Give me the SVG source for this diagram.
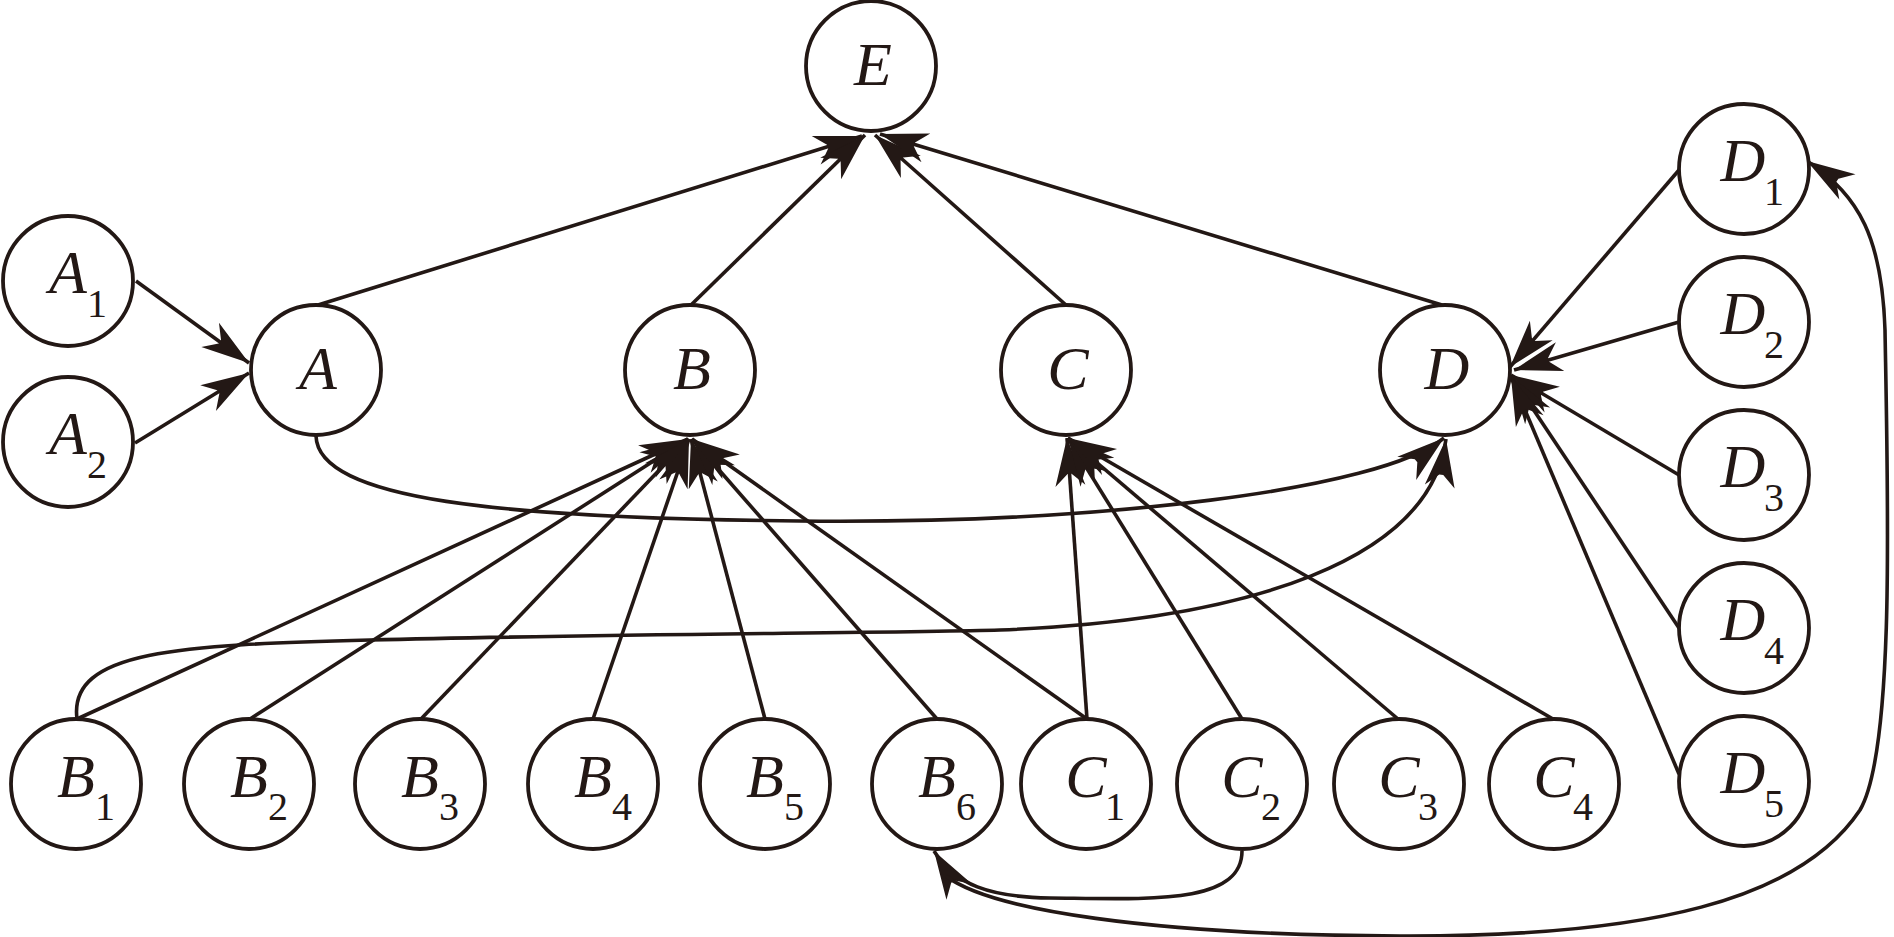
<svg xmlns="http://www.w3.org/2000/svg" width="1894" height="937" viewBox="0 0 1894 937">
<defs>
<style>
.n circle{fill:#fff;stroke:#231815;stroke-width:3.8}
.n text{font-family:"Liberation Serif","Times New Roman",serif;fill:#231815}
.m{font-style:italic;font-size:62px;text-anchor:middle}
.s{font-size:40px}
#edges path,#edges line{fill:none;stroke:#231815;stroke-width:3.6;marker-end:url(#ah)}
</style>
<marker id="ah" markerUnits="userSpaceOnUse" markerWidth="60" markerHeight="40" refX="50" refY="20" orient="auto" overflow="visible">
<path d="M50,20 L2,5 L14,18 L14,22 L2,35 Z" fill="#231815"/>
</marker>
</defs>
<rect width="1894" height="937" fill="#fff"/>
<g id="edges">
<line x1="136" y1="281" x2="249" y2="363"/>
<line x1="135" y1="443" x2="249" y2="373"/>
<line x1="318" y1="305" x2="862" y2="136"/>
<line x1="691" y1="305" x2="865" y2="135"/>
<line x1="1066" y1="305" x2="875" y2="135"/>
<line x1="1442" y1="305" x2="880" y2="134"/>
<line x1="77" y1="719" x2="688" y2="439"/>
<line x1="250" y1="719" x2="688" y2="439"/>
<line x1="421" y1="719" x2="689" y2="439"/>
<line x1="593" y1="719" x2="689" y2="439"/>
<line x1="765" y1="719" x2="691" y2="439"/>
<line x1="937" y1="719" x2="692" y2="439"/>
<line x1="1087" y1="719" x2="692" y2="439"/>
<line x1="1087" y1="719" x2="1067" y2="438"/>
<line x1="1242" y1="719" x2="1068" y2="438"/>
<line x1="1398" y1="719" x2="1068" y2="438"/>
<line x1="1553" y1="719" x2="1068" y2="438"/>
<line x1="1679" y1="170" x2="1510" y2="367"/>
<line x1="1679" y1="322" x2="1514" y2="370"/>
<line x1="1679" y1="475" x2="1511" y2="375"/>
<line x1="1679" y1="628" x2="1511" y2="376"/>
<line x1="1679" y1="774" x2="1511" y2="377"/>
<path d="M316,436 C318,500 500,518 800,521 C1100,524 1380,490 1444,438"/>
<path d="M77,719 C68,650 180,645 370,640 C600,634 900,633 1000,630 C1250,620 1430,560 1446,439"/>
<path d="M1242,851 C1242,905 1150,899 1050,898 C990,897 955,885 934,851"/>
<path d="M946,876 C990,910 1150,935 1400,936 C1650,937 1800,900 1860,810 C1895,750 1888,500 1885,330 C1882,240 1860,195 1807,161"/>
</g>
<g id="E" class="n"><circle cx="871" cy="66" r="65"/><text class="m" x="873" y="85">E</text></g>
<g id="A1" class="n"><circle cx="68" cy="281" r="65"/><text class="m" x="68" y="293">A</text><text class="s" x="87" y="317">1</text></g>
<g id="A2" class="n"><circle cx="68" cy="442" r="65"/><text class="m" x="68" y="454">A</text><text class="s" x="87" y="478">2</text></g>
<g id="A" class="n"><circle cx="316" cy="370" r="65"/><text class="m" x="318" y="389">A</text></g>
<g id="B" class="n"><circle cx="690" cy="370" r="65"/><text class="m" x="692" y="389">B</text></g>
<g id="C" class="n"><circle cx="1066" cy="370" r="65"/><text class="m" x="1068" y="389">C</text></g>
<g id="D" class="n"><circle cx="1445" cy="370" r="65"/><text class="m" x="1447" y="389">D</text></g>
<g id="D1" class="n"><circle cx="1744" cy="169" r="65"/><text class="m" x="1743" y="181">D</text><text class="s" x="1764" y="205">1</text></g>
<g id="D2" class="n"><circle cx="1744" cy="322" r="65"/><text class="m" x="1743" y="334">D</text><text class="s" x="1764" y="358">2</text></g>
<g id="D3" class="n"><circle cx="1744" cy="475" r="65"/><text class="m" x="1743" y="487">D</text><text class="s" x="1764" y="511">3</text></g>
<g id="D4" class="n"><circle cx="1744" cy="628" r="65"/><text class="m" x="1743" y="640">D</text><text class="s" x="1764" y="664">4</text></g>
<g id="D5" class="n"><circle cx="1744" cy="781" r="65"/><text class="m" x="1743" y="793">D</text><text class="s" x="1764" y="817">5</text></g>
<g id="B1" class="n"><circle cx="76" cy="784" r="65"/><text class="m" x="76" y="797">B</text><text class="s" x="95" y="820">1</text></g>
<g id="B2" class="n"><circle cx="249" cy="784" r="65"/><text class="m" x="249" y="797">B</text><text class="s" x="268" y="820">2</text></g>
<g id="B3" class="n"><circle cx="420" cy="784" r="65"/><text class="m" x="420" y="797">B</text><text class="s" x="439" y="820">3</text></g>
<g id="B4" class="n"><circle cx="593" cy="784" r="65"/><text class="m" x="593" y="797">B</text><text class="s" x="612" y="820">4</text></g>
<g id="B5" class="n"><circle cx="765" cy="784" r="65"/><text class="m" x="765" y="797">B</text><text class="s" x="784" y="820">5</text></g>
<g id="B6" class="n"><circle cx="937" cy="784" r="65"/><text class="m" x="937" y="797">B</text><text class="s" x="956" y="820">6</text></g>
<g id="C1" class="n"><circle cx="1086" cy="784" r="65"/><text class="m" x="1086" y="797">C</text><text class="s" x="1105" y="820">1</text></g>
<g id="C2" class="n"><circle cx="1242" cy="784" r="65"/><text class="m" x="1242" y="797">C</text><text class="s" x="1261" y="820">2</text></g>
<g id="C3" class="n"><circle cx="1399" cy="784" r="65"/><text class="m" x="1399" y="797">C</text><text class="s" x="1418" y="820">3</text></g>
<g id="C4" class="n"><circle cx="1554" cy="784" r="65"/><text class="m" x="1554" y="797">C</text><text class="s" x="1573" y="820">4</text></g>
</svg>
